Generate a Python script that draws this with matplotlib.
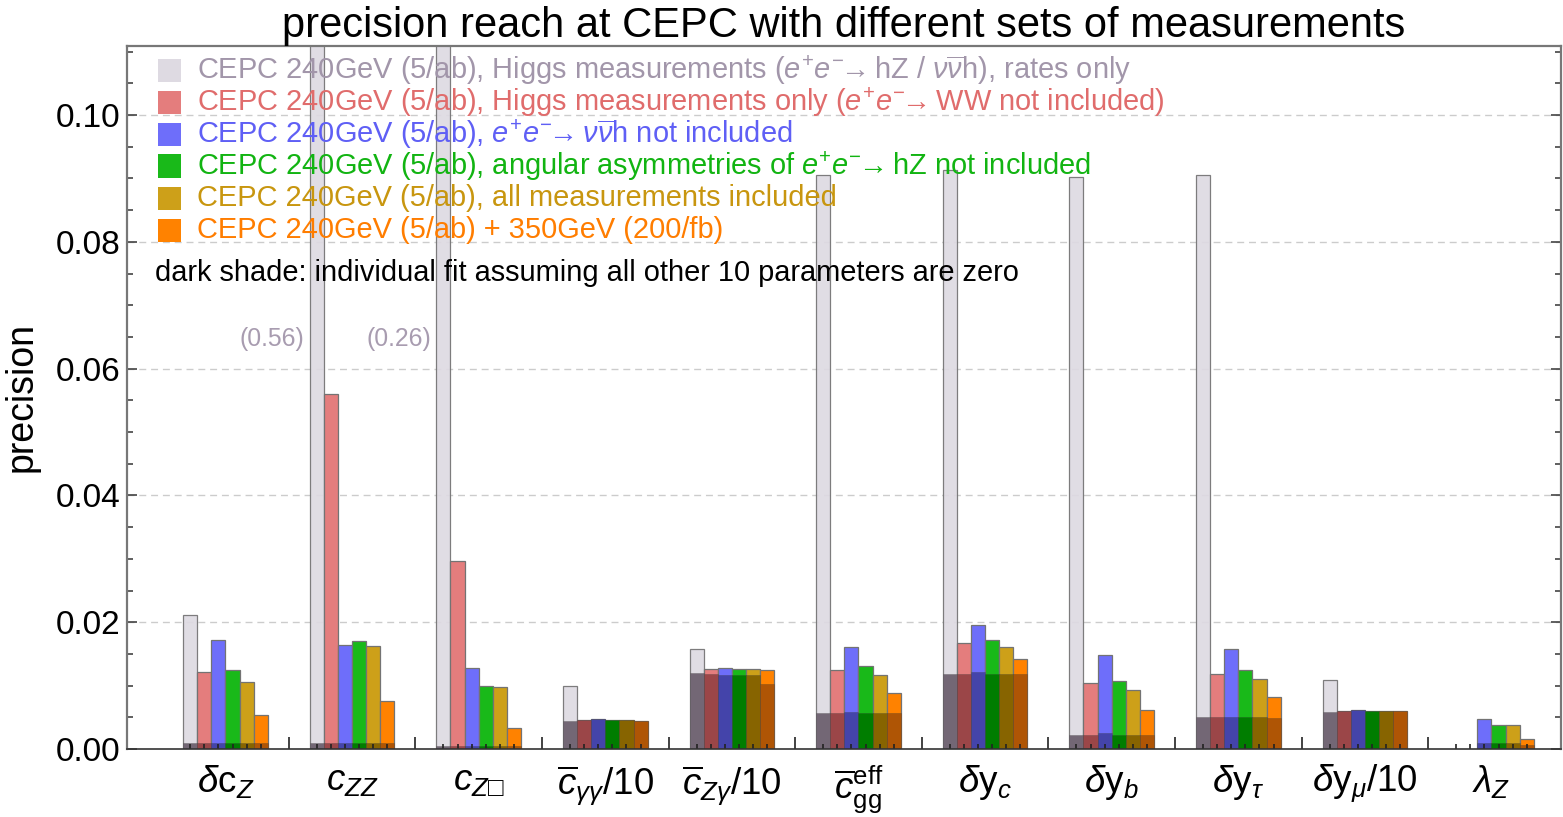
import numpy as np
import matplotlib
matplotlib.use("Agg")
import matplotlib.pyplot as plt
from matplotlib.patches import Rectangle
from matplotlib.transforms import blended_transform_factory

plt.rcParams['font.family'] = ['Liberation Sans', 'DejaVu Sans']
plt.rcParams['mathtext.fontset'] = 'custom'
plt.rcParams['mathtext.rm'] = 'Liberation Sans'
plt.rcParams['mathtext.it'] = 'Liberation Sans:italic'
plt.rcParams['mathtext.bf'] = 'Liberation Sans:bold'
plt.rcParams['mathtext.sf'] = 'Liberation Sans'
plt.rcParams['mathtext.fallback'] = 'stixsans'

# ---------------- data ----------------
param_labels = [r'$\delta\mathrm{c}_Z$', r'$c_{ZZ}$', r'$c_{Z\mathrm{□}}$',
                r'$\overline{c}_{\gamma\gamma}\mathrm{/10}$', r'$\overline{c}_{Z\gamma}\mathrm{/10}$',
                r'$\overline{c}_{\mathrm{gg}}^{\mathrm{eff}}$', r'$\delta\mathrm{y}_c$',
                r'$\delta\mathrm{y}_b$', r'$\delta\mathrm{y}_\tau$', r'$\delta\mathrm{y}_\mu\mathrm{/10}$',
                r'$\lambda_Z$']

scenario_labels = [
    r'CEPC 240GeV (5/ab), Higgs measurements ($e^{+}e^{-}\!\!\rightarrow\!\!$ hZ / $\nu\overline{\nu}$h), rates only',
    r'CEPC 240GeV (5/ab), Higgs measurements only ($e^{+}e^{-}\!\!\rightarrow\!\!$ WW not included)',
    r'CEPC 240GeV (5/ab), $e^{+}e^{-}\!\!\rightarrow\!\!$ $\nu\overline{\nu}$h not included',
    r'CEPC 240GeV (5/ab), angular asymmetries of $e^{+}e^{-}\!\!\rightarrow\!\!$ hZ not included',
    r'CEPC 240GeV (5/ab), all measurements included',
    r'CEPC 240GeV (5/ab) + 350GeV (200/fb)',
]

nan = np.nan
rates_only = [0.0212, 0.56, 0.26, 0.0100, 0.0157, 0.0905, 0.0913, 0.0903, 0.0905, 0.0109, nan]
higgs_only = [0.0122, 0.0560, 0.0297, 0.00457, 0.0126, 0.0125, 0.0167, 0.0104, 0.0118, 0.0060, nan]
no_vvh = [0.0172, 0.0164, 0.0127, 0.00479, 0.0128, 0.0161, 0.0196, 0.0148, 0.0157, 0.00615, 0.00479]
no_asym = [0.0125, 0.0171, 0.0099, 0.00457, 0.0126, 0.0131, 0.0172, 0.0108, 0.0125, 0.00604, 0.00379]
all_meas = [0.0106, 0.0163, 0.0098, 0.00457, 0.0126, 0.0116, 0.0161, 0.0093, 0.0110, 0.0060, 0.00379]
with_350 = [0.0054, 0.0076, 0.0033, 0.00442, 0.0124, 0.0089, 0.0142, 0.0062, 0.0082, 0.0060, 0.00158]

# individual fits (dark shade)
rates_only_ind = [0.0010, 0.0010, 0.0005, 0.00442, 0.0120, 0.0057, 0.0119, 0.0022, 0.0050, 0.0059, nan]
higgs_only_ind = [0.0010, 0.0010, 0.0005, 0.00457, 0.0119, 0.0057, 0.0119, 0.0022, 0.0050, 0.0060, nan]
no_vvh_ind = [0.0010, 0.0010, 0.0005, 0.00479, 0.0116, 0.0058, 0.0122, 0.0025, 0.0051, 0.00615, 0.0009]
no_asym_ind = [0.0010, 0.0010, 0.0005, 0.00457, 0.0117, 0.0057, 0.0119, 0.0022, 0.0050, 0.00604, 0.0009]
all_meas_ind = [0.0010, 0.0010, 0.0005, 0.00457, 0.0116, 0.0057, 0.0119, 0.0022, 0.0050, 0.0060, 0.0009]
with_350_ind = [0.0010, 0.0010, 0.0005, 0.00442, 0.0103, 0.0057, 0.0118, 0.0022, 0.0049, 0.0060, 0.0007]

series = [rates_only, higgs_only, no_vvh, no_asym, all_meas, with_350]
series_ind = [rates_only_ind, higgs_only_ind, no_vvh_ind, no_asym_ind, all_meas_ind, with_350_ind]

light_colors = ['#dedae2', '#e47d7d', '#6e6efa', '#19b919', '#cda019', '#ff8200']
dark_colors = ['#736775', '#9b4648', '#4444aa', '#007d00', '#876400', '#af5505']
text_colors = ['#a296aa', '#e06c6c', '#5f5ff5', '#12b412', '#c8960f', '#ff7d00']

# ---------------- figure ----------------
W, H = 1563, 817
fig = plt.figure(figsize=(W / 100, H / 100), dpi=100)
ax = fig.add_axes([127 / W, 1 - 749 / H, (1561 - 127) / W, (749 - 46) / H])

n_par = len(param_labels)
n_ser = len(series)
bw = 0.1114
x = np.arange(n_par)
ymax = 0.1109

for k in range(n_ser):
    xs = x + (k - (n_ser - 1) / 2) * bw
    vals = np.array(series[k], dtype=float)
    ind = np.array(series_ind[k], dtype=float)
    m = ~np.isnan(vals)
    ax.bar(xs[m], vals[m], width=bw, color=light_colors[k],
           edgecolor=(0.45, 0.45, 0.45, 0.25), linewidth=0.9, zorder=1,
           alpha=0.92 if k == 0 else 1.0)
    mi = ~np.isnan(ind)
    ax.bar(xs[mi], ind[mi], width=bw, color=dark_colors[k],
           edgecolor=(0.2, 0.2, 0.2, 0.25), linewidth=0.7, zorder=1.1)
    # values off the chart
    for xi, v in zip(xs[m], vals[m]):
        if v > ymax:
            ax.annotate(f'({v:.2f})', xy=(xi - bw / 2, 0.0647), xytext=(-4, 0),
                        textcoords='offset points', ha='right', va='center',
                        fontsize=17.8, color='#a89cb0')

# grid
yt = np.arange(0.0, 0.101, 0.02)
for y in yt[1:]:
    ax.axhline(y, color='#cccccc', lw=1.0, ls=(0, (5, 3.5)), zorder=0.5)

ax.set_xlim(-0.778, 10.549)
ax.set_ylim(0, ymax)

ax.set_yticks(yt)
ax.set_yticklabels([f'{v:.2f}' for v in yt])
ax.set_yticks(np.arange(0, ymax, 0.005), minor=True)
ax.tick_params(axis='y', which='both', direction='in', left=True, right=True,
               labelsize=24, colors='#444444', labelcolor='black', width=1.2, pad=5)
ax.tick_params(axis='y', which='major', length=7)
ax.tick_params(axis='y', which='minor', length=4)

ax.set_xticks(np.arange(0.5, n_par - 1, 1.0))
ax.set_xticks((x[:, None] + (np.arange(n_ser) - (n_ser - 1) / 2)[None, :] * bw).ravel(), minor=True)
ax.tick_params(axis='x', which='both', direction='in', labelbottom=False, top=False,
               colors='#222222', width=1.2)
ax.tick_params(axis='x', which='major', length=8.5)
ax.tick_params(axis='x', which='minor', length=3.5)

for s in ax.spines.values():
    s.set_color('#777777')
    s.set_linewidth(1.6)
ax.spines['bottom'].set_color('#333333')
ax.spines['bottom'].set_linewidth(1.2)

# x labels
trans = blended_transform_factory(ax.transData, ax.transAxes)
for xi, lab in zip(x, param_labels):
    ax.text(xi, -0.02, lab, transform=trans, ha='center', va='top', fontsize=26.5)

ax.set_ylabel('precision', fontsize=27, labelpad=11)
ax.set_title('precision reach at CEPC with different sets of measurements',
             fontsize=30, pad=4)

# legend (manual)
ax_px = lambda px, py: ((px - 127) / (1561 - 127), (749 - py) / (749 - 46))
for i in range(n_ser):
    cy = 70 + 32 * i
    x0, y0 = ax_px(158, cy + 11.5)
    x1, y1 = ax_px(181, cy - 11.5)
    ax.add_patch(Rectangle((x0, y0), x1 - x0, y1 - y0, transform=ax.transAxes,
                           facecolor=light_colors[i], edgecolor='none', zorder=3))
    tx, ty = ax_px(197, cy)
    ax.text(tx, ty, scenario_labels[i], transform=ax.transAxes, ha='left', va='center',
            fontsize=20.9, color=text_colors[i], zorder=3)

tx, ty = ax_px(155, 273)
ax.text(tx, ty, 'dark shade: individual fit assuming all other 10 parameters are zero',
        transform=ax.transAxes, ha='left', va='center', fontsize=20.9, color='black', zorder=3)

fig.savefig('out.png', dpi=100)
